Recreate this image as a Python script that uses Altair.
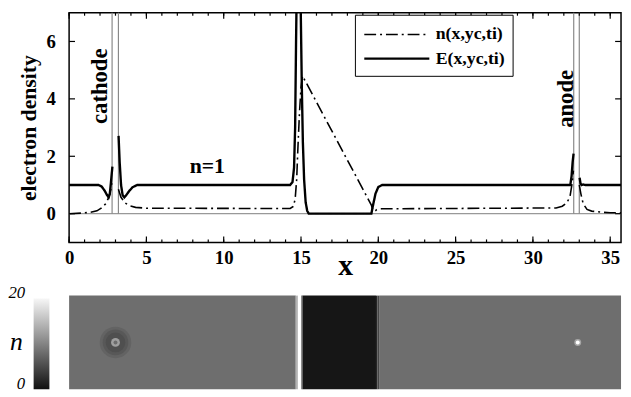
import altair as alt
import pandas as pd

# ---------------- data ----------------
N_LABEL = "n(x,yc,ti)"
E_LABEL = "E(x,yc,ti)"

# E(x,yc,ti) : three pieces (broken at the electrodes)
E1_x = [0.0, 1.9, 2.1, 2.3, 2.45, 2.56, 2.63, 2.69, 2.75, 2.8]
E1_y = [1.0, 1.0, 0.95, 0.8, 0.65, 0.57, 0.68, 1.0, 1.35, 1.64]
E2_x = [3.2, 3.27, 3.36, 3.46, 3.57, 3.7, 3.9, 4.1, 4.4, 14.3, 14.45, 14.55, 14.62, 14.68,
        14.75, 14.92, 14.98, 15.05, 15.12, 15.2, 15.3, 15.4, 15.5, 19.55, 19.68, 19.82,
        20.0, 20.25, 32.42, 32.5, 32.57, 32.63]
E2_y = [2.71, 1.8, 1.0, 0.65, 0.57, 0.65, 0.8, 0.92, 1.0, 1.0, 1.1, 1.6, 3.0, 6.0,
        9.0, 9.0, 7.2, 4.5, 2.5, 1.2, 0.4, 0.1, 0.0, 0.0, 0.35, 0.7,
        0.93, 1.0, 1.0, 1.3, 1.8, 2.09]
E3_x = [33.02, 33.08, 33.15, 33.25, 33.4, 35.7]
E3_y = [1.25, 1.05, 1.0, 1.02, 1.0, 1.0]

# n(x,yc,ti)
N1_x = [0.0, 0.8, 1.4, 1.8, 2.1, 2.35, 2.55, 2.7, 2.77]
N1_y = [0.0, 0.02, 0.05, 0.1, 0.2, 0.34, 0.55, 0.85, 1.1]
N2_x = [3.19, 3.35, 3.6, 3.9, 4.3, 5.0, 14.3, 14.5, 14.62, 14.72, 14.8, 14.9, 15.0, 15.1,
        19.55, 19.65, 19.75, 19.9, 20.2, 31.5, 31.9, 32.2, 32.4, 32.52, 32.62]
N2_y = [0.85, 0.58, 0.38, 0.28, 0.22, 0.19, 0.18, 0.25, 0.5, 1.2, 2.3, 3.5, 4.4, 4.8,
        0.3, 0.12, 0.08, 0.14, 0.17, 0.2, 0.26, 0.38, 0.6, 1.0, 1.5]
N3_x = [33.0, 33.1, 33.25, 33.5, 33.8, 34.5, 35.0, 35.7]
N3_y = [1.0, 0.7, 0.35, 0.15, 0.09, 0.05, 0.03, 0.03]

# electrode walls (x positions)
electrode_x = [2.78, 3.19, 32.64, 33.0]

# annotations
annot_text = ["cathode", "anode"]
annot_x = [1.98, 32.15]
annot_y = [4.44, 4.0]
n1_text = ["n=1"]
n1_x = [8.94]
n1_y = [1.65]

# axis ticks
x_major = [0, 5, 10, 15, 20, 25, 30, 35]
x_minor = list(range(0, 36))
y_major = [0, 2, 4, 6]

# 2-D density map strip (bands along x) and spots
band_x0 = [0.0, 14.66, 14.8, 15.02, 15.1, 19.85, 19.95, 20.05]
band_x1 = [14.66, 14.8, 15.02, 15.1, 19.85, 19.95, 20.05, 35.7]
band_n = [8.6, 14.0, 20.0, 7.0, 1.7, 3.0, 5.5, 8.6]
spot_x = [3.0, 3.0, 3.0, 3.0, 3.0, 32.9, 32.9]
spot_d = [32, 26, 20, 9, 4, 7, 4]
spot_n = [7.8, 6.9, 6.2, 12.5, 8.5, 13.0, 20.0]

# colour bar
cbar_ticks = [0, 20]

# ---------------- build tables ----------------
rows = []
for seg, (xs_, ys_) in enumerate([(E1_x, E1_y), (E2_x, E2_y), (E3_x, E3_y)]):
    rows += [{"x": a, "y": b, "series": E_LABEL, "seg": f"E{seg}"} for a, b in zip(xs_, ys_)]
for seg, (xs_, ys_) in enumerate([(N1_x, N1_y), (N2_x, N2_y), (N3_x, N3_y)]):
    rows += [{"x": a, "y": b, "series": N_LABEL, "seg": f"N{seg}"} for a, b in zip(xs_, ys_)]
df_lines = pd.DataFrame(rows)

FONT = "Liberation Serif"
XMAX = 35.7
W, H = 560, 233
H2 = 95
TICK_MAJ, TICK_MIN = 6, 3

xs = alt.Scale(domain=[0, XMAX], nice=False, zero=False)
ys = alt.Scale(domain=[-1, 7], nice=False, zero=False)

x_axis = alt.Axis(title="x", values=x_major, ticks=False, domain=False, grid=False,
                  labelFont=FONT, labelFontWeight="bold", labelFontSize=19, labelColor="black",
                  labelPadding=6, titleFont=FONT, titleFontWeight="bold", titleFontSize=30,
                  titleColor="black", titlePadding=-16, labelFlush=False)
y_axis = alt.Axis(title="electron density", values=y_major, ticks=False, domain=False, grid=False,
                  labelFont=FONT, labelFontWeight="bold", labelFontSize=19, labelColor="black",
                  labelPadding=14, titleFont=FONT, titleFontWeight="bold", titleFontSize=22,
                  titleColor="black", titlePadding=6)

lines = alt.Chart(df_lines).mark_line(clip=True, color="black").encode(
    x=alt.X("x:Q", scale=xs, axis=x_axis),
    y=alt.Y("y:Q", scale=ys, axis=y_axis),
    strokeDash=alt.StrokeDash(
        "series:N",
        scale=alt.Scale(domain=[N_LABEL, E_LABEL], range=[[12, 4, 2, 4], [1, 0]]),
        legend=alt.Legend(title=None, orient="none", legendX=290, legendY=2,
                          symbolType="M-1,0H5", symbolSize=484, symbolStrokeWidth=2,
                          symbolStrokeColor="black", labelFont=FONT, labelFontWeight="bold",
                          labelFontSize=18, labelColor="black", labelOffset=49,
                          strokeColor="black", fillColor="white", padding=8, rowPadding=3),
    ),
    strokeWidth=alt.StrokeWidth("series:N",
                                scale=alt.Scale(domain=[N_LABEL, E_LABEL], range=[1.6, 2.4]),
                                legend=None),
    detail="seg:N",
    order="x:Q",
)

df_el = pd.DataFrame({"x": electrode_x})
walls = alt.Chart(df_el).mark_rule(color="#888888", strokeWidth=1.2).encode(
    x=alt.X("x:Q", scale=xs), y=alt.datum(0), y2=alt.datum(7))

zero_line = alt.Chart(pd.DataFrame({"y": [0]})).mark_rule(color="#999999", strokeWidth=1.2).encode(
    y=alt.Y("y:Q", scale=ys))

df_xmaj = pd.DataFrame({"x": x_major})
df_xmin = pd.DataFrame({"x": x_minor})
df_ymaj = pd.DataFrame({"y": y_major})
tick_style = dict(color="black", strokeWidth=1.2)
ticks = [
    alt.Chart(df_xmin).mark_rule(**tick_style).encode(
        x=alt.X("x:Q", scale=xs), y=alt.value(H), y2=alt.value(H - TICK_MIN)),
    alt.Chart(df_xmin).mark_rule(**tick_style).encode(
        x=alt.X("x:Q", scale=xs), y=alt.value(0), y2=alt.value(TICK_MIN)),
    alt.Chart(df_xmaj).mark_rule(**tick_style).encode(
        x=alt.X("x:Q", scale=xs), y=alt.value(H), y2=alt.value(H - TICK_MAJ)),
    alt.Chart(df_xmaj).mark_rule(**tick_style).encode(
        x=alt.X("x:Q", scale=xs), y=alt.value(0), y2=alt.value(TICK_MAJ)),
    alt.Chart(df_ymaj).mark_rule(**tick_style).encode(
        y=alt.Y("y:Q", scale=ys), x=alt.value(0), x2=alt.value(TICK_MAJ)),
    alt.Chart(df_ymaj).mark_rule(**tick_style).encode(
        y=alt.Y("y:Q", scale=ys), x=alt.value(W), x2=alt.value(W - TICK_MAJ)),
]

df_ann = pd.DataFrame({"t": annot_text, "x": annot_x, "y": annot_y})
ann = alt.Chart(df_ann).mark_text(font=FONT, fontWeight="bold", fontSize=23, angle=270,
                                  color="black").encode(
    x=alt.X("x:Q", scale=xs), y=alt.Y("y:Q", scale=ys), text="t:N")
df_n1 = pd.DataFrame({"t": n1_text, "x": n1_x, "y": n1_y})
n1 = alt.Chart(df_n1).mark_text(font=FONT, fontWeight="bold", fontSize=22, color="black").encode(
    x=alt.X("x:Q", scale=xs), y=alt.Y("y:Q", scale=ys), text="t:N")

top = alt.layer(zero_line, walls, lines, ann, n1, *ticks).properties(
    width=W, height=H,
    view=alt.ViewBackground(stroke="black", strokeWidth=1.5),
)

# ---------------- bottom strip ----------------
cs = alt.Scale(domain=[0, 20], range=["#000000", "#ffffff"], interpolate="rgb")
x2s = alt.Scale(domain=[0, XMAX], nice=False, zero=False)
y2s = alt.Scale(domain=[0, 1], nice=False, zero=False)

df_band = pd.DataFrame({"x0": band_x0, "x1": band_x1, "n": band_n})
bands = alt.Chart(df_band).mark_rect().encode(
    x=alt.X("x0:Q", scale=x2s, axis=None), x2="x1:Q",
    y=alt.datum(0, scale=y2s, axis=None), y2=alt.datum(1),
    color=alt.Color("n:Q", scale=cs, legend=None),
)
df_spot = pd.DataFrame({"x": spot_x, "y": [0.5] * len(spot_x), "d": spot_d, "n": spot_n})
df_spot["s"] = df_spot["d"] ** 2
spots = alt.Chart(df_spot).mark_circle(opacity=1).encode(
    x=alt.X("x:Q", scale=x2s, axis=None), y=alt.Y("y:Q", scale=y2s, axis=None),
    size=alt.Size("s:Q", scale=None, legend=None),
    color=alt.Color("n:Q", scale=cs, legend=None),
    order=alt.Order("s:Q", sort="descending"),
)

cbar_grad = alt.Gradient(gradient="linear", x1=0, x2=0, y1=1, y2=0,
                         stops=[alt.GradientStop(offset=0, color="#111111"),
                                alt.GradientStop(offset=1, color="#f6f6f6")])
cbs = alt.Scale(domain=[0, 20], range=[H2, 3], nice=False, zero=False)
cbar = alt.Chart(pd.DataFrame({"lo": [cbar_ticks[0]], "hi": [cbar_ticks[1]]})).mark_rect(
    color=cbar_grad).encode(
    x=alt.value(-36), x2=alt.value(-20),
    y=alt.Y("lo:Q", scale=cbs, axis=alt.Axis(
        title="n", values=cbar_ticks, orient="left", offset=36, ticks=False, domain=False,
        grid=False, labelFont=FONT, labelFontStyle="italic", labelFontSize=17,
        labelColor="black", labelPadding=9, labelOffset=-6, titleFont=FONT,
        titleFontStyle="italic", titleFontWeight="normal", titleFontSize=26,
        titleColor="black", titleAngle=0, titleAlign="center", titleBaseline="middle",
        titleX=-18, titleY=47)),
    y2="hi:Q",
)

bottom = alt.layer(bands, spots, cbar).resolve_scale(y="independent").properties(
    width=W, height=H2, view=alt.ViewBackground(stroke=None))

chart = alt.vconcat(top, bottom, spacing=2).resolve_scale(
    strokeDash="independent", strokeWidth="independent"
).resolve_legend(strokeDash="independent").properties(
    padding={"left": 0, "top": 0, "right": 0, "bottom": 0}
).configure(background="white")

chart.save("out.html", embed_options={"renderer": "svg", "actions": False})
